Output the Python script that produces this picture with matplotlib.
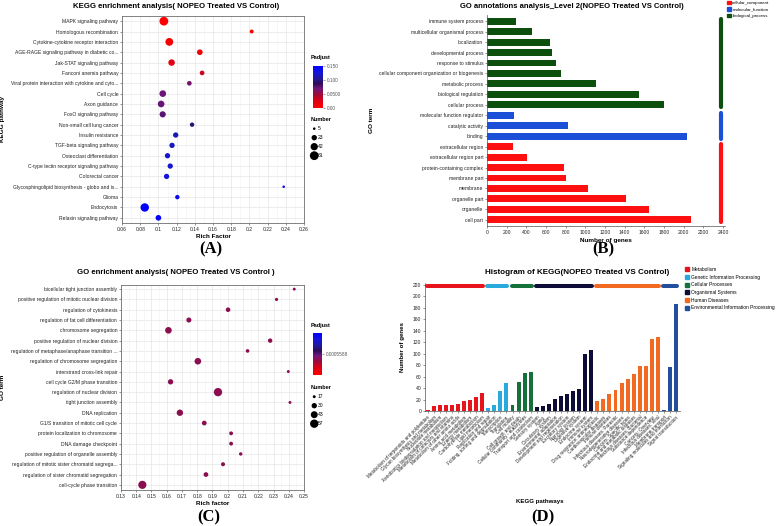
import numpy as np
import matplotlib
matplotlib.use("Agg")
import matplotlib.pyplot as plt
from matplotlib.colors import LinearSegmentedColormap, Normalize
from matplotlib.patches import Patch
from matplotlib.cm import ScalarMappable

plt.rcParams.update({
    "font.family": ["Liberation Sans", "DejaVu Sans"],
    "font.size": 4,
    "axes.linewidth": 0.5,
    "xtick.major.width": 0.4,
    "ytick.major.width": 0.4,
    "xtick.major.size": 1.5,
    "ytick.major.size": 1.5,
    "xtick.major.pad": 1.2,
    "ytick.major.pad": 1.2,
})

W, H = 777, 526

# ---------------- data ----------------
# (A) KEGG enrichment
kegg_terms = ["MAPK signaling pathway", "Homologous recombination",
              "Cytokine-cytokine receptor interaction",
              "AGE-RAGE signaling pathway in diabetic co...",
              "Jak-STAT signaling pathway", "Fanconi anemia pathway",
              "Viral protein interaction with cytokine and cyto...",
              "Cell cycle", "Axon guidance", "FoxO signaling pathway",
              "Non-small cell lung cancer", "Insulin resistance",
              "TGF-beta signaling pathway", "Osteoclast differentiation",
              "C-type lectin receptor signaling pathway", "Colorectal cancer",
              "Glycosphingolipid biosynthesis - globo and is...", "Glioma",
              "Endocytosis", "Relaxin signaling pathway"]
kegg_rich = [0.106, 0.2025, 0.112, 0.1455, 0.1145, 0.148, 0.134, 0.1048,
             0.103, 0.1047, 0.137, 0.119, 0.115, 0.110, 0.113, 0.109,
             0.2377, 0.1208, 0.085, 0.100]
kegg_padj = [0.0, 0.004, 0.006, 0.010, 0.022, 0.032, 0.066, 0.070, 0.072,
             0.075, 0.095, 0.115, 0.118, 0.122, 0.124, 0.126, 0.130, 0.138,
             0.150, 0.145]
kegg_count = [61, 12, 48, 25, 33, 17, 17, 35, 35, 30, 15, 22, 22, 22, 22,
              22, 5, 15, 56, 25]
kegg_size_legend = [5, 23, 42, 61]
kegg_padj_ticks = [0.0, 0.05, 0.10, 0.15]
kegg_padj_labels = ["0.00", "0.0500", "0.100", "0.150"]

# (B) GO level 2
go2_terms = ["immune system process", "multicellular organismal process",
             "localization", "developmental process", "response to stimulus",
             "cellular component organization or biogenesis",
             "metabolic process", "biological regulation", "cellular process",
             "molecular function regulator", "catalytic activity", "binding",
             "extracellular region", "extracellular region part",
             "protein-containing complex", "membrane part", "membrane",
             "organelle part", "organelle", "cell part"]
go2_counts = [290, 455, 640, 660, 700, 750, 1110, 1545, 1800,
              275, 820, 2030,
              260, 405, 785, 800, 1025, 1410, 1645, 2075]
go2_class = ["biological_process"] * 9 + ["molecular_function"] * 3 + \
            ["cellular_component"] * 8
go2_class_order = ["cellular_component", "molecular_function", "biological_process"]
go2_class_colors = {"cellular_component": "#ff1010",
                    "molecular_function": "#1c4fd8",
                    "biological_process": "#0d4f0d"}

# (C) GO enrichment
go_terms = ["bicellular tight junction assembly",
            "positive regulation of mitotic nuclear division",
            "regulation of cytokinesis", "regulation of fat cell differentiation",
            "chromosome segregation", "positive regulation of nuclear division",
            "regulation of metaphase/anaphase transition ...",
            "regulation of chromosome segregation",
            "interstrand cross-link repair", "cell cycle G2/M phase transition",
            "regulation of nuclear division", "tight junction assembly",
            "DNA replication", "G1/S transition of mitotic cell cycle",
            "protein localization to chromosome", "DNA damage checkpoint",
            "positive regulation of organelle assembly",
            "regulation of mitotic sister chromatid segrega...",
            "regulation of sister chromatid segregation",
            "cell-cycle phase transition"]
go_rich = [0.2436, 0.232, 0.2002, 0.1745, 0.1611, 0.2278, 0.213, 0.1804,
           0.2397, 0.1625, 0.1936, 0.2408, 0.1686, 0.1846, 0.2022, 0.2022,
           0.2085, 0.1969, 0.1857, 0.144]
go_count = [17, 18, 25, 28, 40, 24, 20, 40, 17, 30, 57, 17, 38, 26, 21, 21,
            19, 22, 26, 55]
go_size_legend = [17, 30, 43, 57]
go_padj_value = 0.0005588

# (D) KEGG level-2 histogram
hist_groups = ["Metabolism", "Genetic Information Processing",
               "Cellular Processes", "Organismal Systems", "Human Diseases",
               "Environmental Information Processing"]
hist_group_colors = ["#e8141c", "#2aa9dc", "#16703a", "#0c0c36", "#f26a21",
                     "#214f9e"]
hist_pathways = [
    ["Metabolism of terpenoids and polyketides", "Glycan biosynthesis and metabolism",
     "Nucleotide metabolism", "Xenobiotics biodegradation and metabolism",
     "Metabolism of cofactors and vitamins", "Metabolism of other amino acids",
     "Amino acid metabolism", "Energy metabolism", "Carbohydrate metabolism",
     "Lipid metabolism"],
    ["Replication and repair", "Folding, sorting and degradation",
     "Transcription", "Translation"],
    ["Cell motility", "Cell growth and death", "Cellular community - eukaryotes",
     "Transport and catabolism"],
    ["Sensory system", "Aging", "Circulatory system", "Environmental adaptation",
     "Development and regeneration", "Excretory system", "Nervous system",
     "Digestive system", "Endocrine system", "Immune system"],
    ["Drug resistance: antineoplastic", "Cardiovascular diseases",
     "Immune diseases", "Infectious diseases: Parasitic",
     "Neurodegenerative diseases", "Cancers: Specific types",
     "Endocrine and metabolic diseases", "Infectious diseases: Bacterial",
     "Substance dependence", "Cancers: Overview", "Infectious diseases: Viral"],
    ["Membrane transport", "Signaling molecules and interaction",
     "Signal transduction"],
]
hist_counts = [
    [2, 9, 10, 10, 11, 13, 18, 20, 24, 32],
    [6, 11, 35, 49],
    [11, 51, 67, 68],
    [7, 8, 13, 21, 26, 29, 35, 38, 100, 106],
    [18, 21, 30, 37, 48, 55, 64, 78, 78, 126, 129],
    [2, 76, 187],
]

# ---------------- helpers ----------------
fig = plt.figure(figsize=(W / 100, H / 100), dpi=100)


def add_ax(l, t, r, b):
    return fig.add_axes([l / W, 1 - b / H, (r - l) / W, (b - t) / H])


def ftext(x, y, s, **kw):
    fig.text(x / W, 1 - y / H, s, **kw)


padj_cmap = LinearSegmentedColormap.from_list(
    "padj", [(0, "#ff0000"), (0.18, "#dc0014"), (0.32, "#a00a3c"),
             (0.47, "#6c167a"), (0.58, "#2e0c58"), (0.7, "#22189a"),
             (0.85, "#1414dc"), (1, "#0000ff")])

GRID = "#e6e6e6"
BORDER = "#6e6e6e"


def style_bw(ax):
    for sp in ax.spines.values():
        sp.set_color(BORDER)
        sp.set_linewidth(0.6)
    ax.grid(True, which="major", color=GRID, lw=0.5)
    ax.grid(True, which="minor", axis="x", color="#f1f1f1", lw=0.4)
    ax.set_axisbelow(True)
    ax.tick_params(which="major", colors="#444444", labelcolor="#222222",
                   labelsize=3.6)
    ax.tick_params(which="minor", length=0)


def scale_size(n, lo, hi, s_lo, s_hi):
    n = np.asarray(n, dtype=float)
    return s_lo + (n - lo) / (hi - lo) * (s_hi - s_lo)


def size_legend(ax, vals, sizes, x, y):
    hs = [ax.scatter([], [], s=s, color="black", edgecolors="none") for s in sizes]
    leg = ax.legend(hs, [str(v) for v in vals], title="Number", loc="upper left",
                    bbox_to_anchor=(x / W, 1 - y / H), bbox_transform=fig.transFigure,
                    frameon=False, fontsize=3.6, title_fontsize=4, labelspacing=0.8,
                    handletextpad=0.1, borderpad=0, borderaxespad=0,
                    alignment="left", handlelength=1.3)
    leg.get_title().set_fontweight("bold")
    return leg


A_S = (3.5, 40)
C_S = (4.5, 36)

# ---------------- (A) ----------------
ax = add_ax(122, 16, 304, 223)
ya = np.arange(len(kegg_terms))
sa = scale_size(kegg_count, 5, 61, *A_S)
sc = ax.scatter(kegg_rich, ya, s=sa, c=kegg_padj, cmap=padj_cmap,
                norm=Normalize(0, 0.15), edgecolors="none", zorder=3)
ax.set_ylim(len(kegg_terms) - 0.5, -0.5)
ax.set_xlim(0.06, 0.26)
xa = np.round(np.arange(0.06, 0.261, 0.02), 2)
ax.set_xticks(xa)
ax.set_xticklabels([f"{v:g}" for v in xa])
ax.set_xticks(np.arange(0.07, 0.26, 0.02), minor=True)
ax.set_yticks(ya)
ax.set_yticklabels(kegg_terms)
style_bw(ax)
ax.set_xlabel("Rich Factor", fontsize=4.6, fontweight="bold", labelpad=1.5)
ax.set_ylabel("KEGG pathway", fontsize=4.6, fontweight="bold")
ax.yaxis.set_label_coords((5 - 122) / 182, 0.5)
cax = add_ax(313, 66, 323, 108)
cb = fig.colorbar(sc, cax=cax, ticks=kegg_padj_ticks)
cb.ax.set_yticklabels(kegg_padj_labels)
cb.outline.set_visible(False)
cax.tick_params(labelsize=3.4, length=1.5, width=0.4, colors="#555555", pad=1)
ftext(311, 58, "Padjust", fontsize=4, fontweight="bold", va="center")
size_legend(ax, kegg_size_legend, scale_size(kegg_size_legend, 5, 61, *A_S), 311, 117)
ftext(176, 6, "KEGG enrichment analysis( NOPEO Treated VS Control)",
      fontsize=5.6, fontweight="bold", ha="center", va="center")
ftext(211, 249, "(A)", fontsize=12, fontweight="bold", family="Liberation Serif",
      ha="center", va="center")

# ---------------- (B) ----------------
ax = add_ax(487, 15, 725, 226)
yb = np.arange(len(go2_terms))
ax.barh(yb, go2_counts, height=0.66,
        color=[go2_class_colors[c] for c in go2_class], zorder=2)
for cls in go2_class_order:
    idx = [i for i, c in enumerate(go2_class) if c == cls]
    ax.plot([2378, 2378], [min(idx) - 0.25, max(idx) + 0.25],
            color=go2_class_colors[cls], lw=3, solid_capstyle="round", zorder=3)
ax.set_ylim(len(go2_terms) - 0.4, -0.6)
ax.set_xlim(0, 2420)
ax.set_xticks(np.arange(0, 2401, 200))
ax.set_yticks(yb)
ax.set_yticklabels(go2_terms)
for sp in ["top", "right"]:
    ax.spines[sp].set_visible(False)
for sp in ["left", "bottom"]:
    ax.spines[sp].set_color("#555555")
ax.tick_params(labelsize=3.6, colors="#444444", labelcolor="#222222")
ax.set_xlabel("Number of genes", fontsize=4.6, fontweight="bold", labelpad=2)
ax.set_ylabel("GO term", fontsize=4.6, fontweight="bold")
ax.yaxis.set_label_coords((374 - 487) / 238, 0.5)
fig.legend([Patch(color=go2_class_colors[c]) for c in go2_class_order],
           go2_class_order, loc="upper left", bbox_to_anchor=(727 / W, 1 - 1 / H),
           frameon=False, fontsize=3.2, handlelength=0.8, handleheight=0.8,
           handletextpad=0.4, labelspacing=0.5, borderpad=0, borderaxespad=0)
ftext(572, 6, "GO annotations analysis_Level 2(NOPEO Treated VS Control)",
      fontsize=5.5, fontweight="bold", ha="center", va="center")
ftext(603, 249, "(B)", fontsize=12, fontweight="bold", family="Liberation Serif",
      ha="center", va="center")

# ---------------- (C) ----------------
ax = add_ax(121, 285, 304, 490)
yc = np.arange(len(go_terms))
sc_go = scale_size(go_count, 17, 57, *C_S)
ax.scatter(go_rich, yc, s=sc_go, color="#8a0e50", edgecolors="none", zorder=3)
ax.set_ylim(len(go_terms) - 0.5, -0.4)
ax.set_xlim(0.13, 0.25)
xt = np.round(np.arange(0.13, 0.2501, 0.01), 2)
ax.set_xticks(xt)
ax.set_xticklabels([f"{v:g}" for v in xt])
ax.set_xticks(np.arange(0.135, 0.25, 0.01), minor=True)
ax.set_yticks(yc)
ax.set_yticklabels(go_terms)
style_bw(ax)
ax.set_xlabel("Rich factor", fontsize=4.6, fontweight="bold", labelpad=1.5)
ax.set_ylabel("GO term", fontsize=4.6, fontweight="bold")
ax.yaxis.set_label_coords((5 - 121) / 183, 0.5)
cax = add_ax(313, 333, 322, 375)
sm = ScalarMappable(norm=Normalize(go_padj_value * 0.9, go_padj_value * 1.1),
                    cmap=padj_cmap)
cb = fig.colorbar(sm, cax=cax, ticks=[go_padj_value])
cb.ax.set_yticklabels([f"{go_padj_value:.7f}"])
cb.outline.set_visible(False)
cax.tick_params(labelsize=3.4, length=1.5, width=0.4, colors="#555555", pad=1)
ftext(311, 325, "Padjust", fontsize=4, fontweight="bold", va="center")
size_legend(ax, go_size_legend, scale_size(go_size_legend, 17, 57, *C_S), 311, 385)
ftext(176, 273, "GO enrichment analysis( NOPEO Treated VS Control )",
      fontsize=5.6, fontweight="bold", ha="center", va="center")
ftext(209, 517, "(C)", fontsize=12, fontweight="bold", family="Liberation Serif",
      ha="center", va="center")

# ---------------- (D) ----------------
ax = add_ax(425, 283, 680, 411)
names, vals, cols, spans = [], [], [], []
for g, col, pw, cnt in zip(hist_groups, hist_group_colors, hist_pathways, hist_counts):
    start = len(names)
    names += pw
    vals += cnt
    cols += [col] * len(pw)
    spans.append((start, len(names) - 1, col))
xd = np.arange(len(names))
ax.bar(xd, vals, width=0.65, color=cols, zorder=2)
for s0, s1, col in spans:
    ax.plot([s0 - 0.15, s1 + 0.15], [217, 217], color=col, lw=2.9,
            solid_capstyle="round", zorder=3)
ax.set_xlim(-0.45, len(names) - 0.35)
ax.set_ylim(0, 223)
ax.set_yticks(np.arange(0, 221, 20))
ax.set_xticks(xd)
ax.set_xticklabels(names, rotation=45, ha="right", rotation_mode="anchor",
                   fontsize=3.3)
for sp in ["top", "right"]:
    ax.spines[sp].set_visible(False)
for sp in ["left", "bottom"]:
    ax.spines[sp].set_color("#555555")
ax.tick_params(labelsize=3.6, colors="#444444", labelcolor="#222222")
ax.tick_params(axis="x", labelsize=3.3)
ax.set_ylabel("Number of genes", fontsize=4.4, fontweight="bold")
ax.yaxis.set_label_coords((405 - 425) / 255, 0.5)
ftext(540, 502, "KEGG pathways", fontsize=4.4, fontweight="bold", ha="center",
      va="center")
fig.legend([Patch(color=c) for c in hist_group_colors], hist_groups,
           loc="upper left", bbox_to_anchor=(685 / W, 1 - 267 / H),
           frameon=False, fontsize=3.5, handlelength=0.9, handleheight=0.9,
           handletextpad=0.4, labelspacing=0.55, borderpad=0, borderaxespad=0)
ftext(577, 273, "Histogram of KEGG(NOPEO Treated VS Control)",
      fontsize=5.8, fontweight="bold", ha="center", va="center")
ftext(543, 517, "(D)", fontsize=12, fontweight="bold", family="Liberation Serif",
      ha="center", va="center")

fig.savefig("out.png", dpi=100)
print("saved out.png")
